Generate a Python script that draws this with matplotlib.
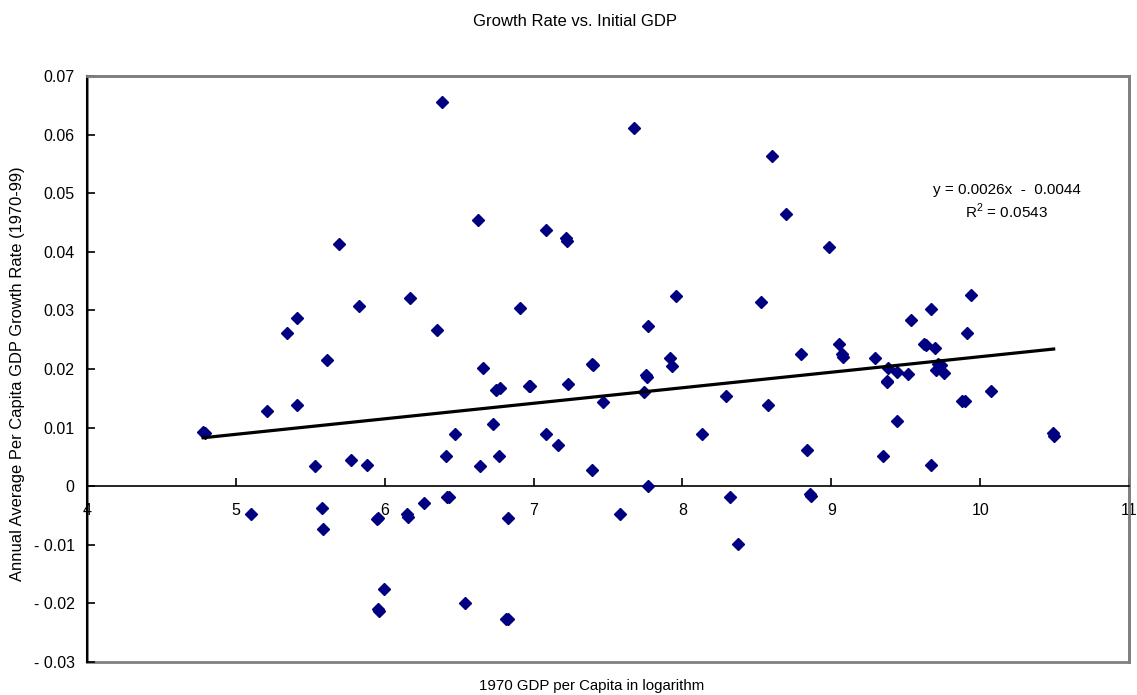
import numpy as np
import matplotlib
matplotlib.use("Agg")
import matplotlib.pyplot as plt
from matplotlib.patches import Rectangle

plt.rcParams['font.family'] = ['Liberation Sans', 'DejaVu Sans']
plt.rcParams['mathtext.fontset'] = 'custom'
plt.rcParams['mathtext.rm'] = 'Liberation Sans'

# log 1970 GDP per capita
gdp_log = [6.382, 6.624, 5.696, 6.167, 5.830, 5.413, 5.344, 6.353, 5.615, 6.663,
           7.674, 8.603, 8.697, 7.082, 7.216, 7.222, 6.907, 7.959, 8.525, 7.768,
           7.392, 7.400, 7.917, 7.930, 7.752, 7.765, 8.795, 8.984, 9.937, 9.668,
           9.534, 9.910, 9.049, 9.070, 9.078, 9.292, 9.624, 9.634, 9.695, 9.381,
           9.440, 9.516, 9.715, 9.740, 9.706, 9.760, 9.372, 9.375, 10.072, 9.880,
           9.895, 9.440, 10.490, 10.494, 8.834, 9.345, 9.671, 8.860, 8.866, 6.746,
           6.772, 5.211, 5.411, 4.780, 4.790, 5.532, 5.775, 5.884, 6.409, 6.474,
           6.730, 6.638, 6.768, 5.101, 5.577, 5.588, 5.945, 5.958, 6.150, 6.155,
           6.263, 6.420, 6.432, 5.992, 5.952, 5.960, 6.542, 6.966, 6.978, 7.230,
           7.742, 7.468, 8.293, 8.578, 7.084, 7.163, 7.392, 8.132, 7.770, 8.320,
           6.829, 7.580, 8.374, 6.818, 6.826]
# annual average growth rate 1970-99
growth = [0.0655, 0.0454, 0.0413, 0.0321, 0.0307, 0.0287, 0.0262, 0.0266, 0.0215, 0.0201,
          0.0611, 0.0563, 0.0464, 0.0437, 0.0424, 0.0419, 0.0304, 0.0324, 0.0314, 0.0273,
          0.0209, 0.0207, 0.0219, 0.0205, 0.0189, 0.0186, 0.0225, 0.0409, 0.0327, 0.0303,
          0.0283, 0.0262, 0.0242, 0.0225, 0.0221, 0.0219, 0.0242, 0.0241, 0.0236, 0.0201,
          0.0195, 0.0191, 0.0209, 0.0207, 0.0198, 0.0194, 0.0180, 0.0177, 0.0163, 0.0146,
          0.0146, 0.0112, 0.0090, 0.0086, 0.0061, 0.0051, 0.0037, -0.0013, -0.0017, 0.0164,
          0.0167, 0.0129, 0.0139, 0.0092, 0.0090, 0.0034, 0.0044, 0.0037, 0.0051, 0.0089,
          0.0106, 0.0034, 0.0051, -0.0048, -0.0038, -0.0073, -0.0056, -0.0055, -0.0047, -0.0052,
          -0.0028, -0.0018, -0.0018, -0.0175, -0.0209, -0.0213, -0.0199, 0.0171, 0.0171, 0.0174,
          0.0160, 0.0143, 0.0154, 0.0139, 0.0089, 0.0071, 0.0027, 0.0089, 0.0000, -0.0018,
          -0.0055, -0.0048, -0.0099, -0.0226, -0.0226]

# trend line as drawn in the chart
slope = 0.00265
intercept = -0.0044

x_ticks = [4, 5, 6, 7, 8, 9, 10, 11]
y_ticks = [-0.03, -0.02, -0.01, 0, 0.01, 0.02, 0.03, 0.04, 0.05, 0.06, 0.07]
y_tick_labels = ['- 0.03', '- 0.02', '- 0.01', '0', '0.01', '0.02', '0.03',
                 '0.04', '0.05', '0.06', '0.07']

x = np.array(gdp_log)
y = np.array(growth)

fig = plt.figure(figsize=(11.37, 6.95), dpi=100)
ax = fig.add_axes([87/1137, 1 - 662/695, (1129 - 87)/1137, (662 - 76)/695])

ax.plot(x, y, 'D', color='#000080', markersize=6, linestyle='none', zorder=3)

xs = np.array([x.min(), x.max()])
ax.plot(xs, slope*xs + intercept, color='black', lw=2.3, zorder=4)

ax.set_xlim(4, 11)
ax.set_ylim(-0.03, 0.07)
ax.set_xticks(x_ticks)
ax.set_yticks(y_ticks)
ax.set_yticklabels(y_tick_labels)

ax.spines['bottom'].set_position(('data', 0))
ax.spines['bottom'].set_color('black')
ax.spines['bottom'].set_linewidth(1.2)
ax.spines['left'].set_color('black')
ax.spines['left'].set_linewidth(1.5)
for s in ['top', 'right']:
    ax.spines[s].set_color('#808080')
    ax.spines[s].set_linewidth(2)
ax.add_patch(Rectangle((0, 0), 1, 1, transform=ax.transAxes, fill=False,
                       edgecolor='#808080', lw=2, clip_on=False, zorder=0))

ax.tick_params(axis='x', direction='in', length=6, width=1.2, pad=12, labelsize=11.5)
ax.tick_params(axis='y', direction='in', length=6, width=1.2, pad=9, labelsize=11.5)

ax.text(10.18, 0.0505, 'y = 0.0026x  -  0.0044', ha='center', va='center', fontsize=11)
ax.text(10.18, 0.0469, 'R$^2$ = 0.0543', ha='center', va='center', fontsize=11)

fig.text(575/1137, 1 - 22/695, 'Growth Rate vs. Initial GDP', ha='center', va='center', fontsize=12)
fig.text(592/1137, 1 - 686/695, '1970 GDP per Capita in logarithm', ha='center', va='center', fontsize=10.8)
fig.text(18/1137, 1 - 374/695, 'Annual Average Per Capita GDP Growth Rate (1970-99)',
         ha='center', va='center', rotation=90, fontsize=11.9)

fig.savefig('out.png', dpi=100)
